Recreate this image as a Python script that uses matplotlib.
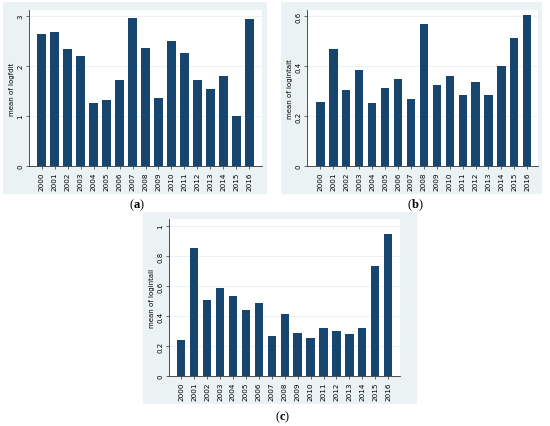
import matplotlib
matplotlib.use("Agg")
import matplotlib.pyplot as plt
from matplotlib.patches import Rectangle

years = [str(y) for y in range(2000, 2017)]

logfdit = [2.65, 2.68, 2.35, 2.21, 1.26, 1.33, 1.73, 2.97, 2.36, 1.37,
           2.51, 2.27, 1.73, 1.55, 1.81, 1.01, 2.95]
logintalt = [0.255, 0.47, 0.303, 0.385, 0.251, 0.313, 0.348, 0.269, 0.568, 0.324,
             0.359, 0.283, 0.336, 0.284, 0.401, 0.511, 0.603]
logintall = [0.239, 0.856, 0.507, 0.586, 0.531, 0.438, 0.489, 0.268, 0.412, 0.285,
             0.254, 0.323, 0.299, 0.281, 0.321, 0.735, 0.947]

yticks_a = [0, 1, 2, 3]
yticks_b = [0, 0.2, 0.4, 0.6]
yticks_c = [0, 0.2, 0.4, 0.6, 0.8, 1]

plt.rcParams['mathtext.fontset'] = 'custom'
plt.rcParams['mathtext.bf'] = 'Liberation Serif:bold'
plt.rcParams['mathtext.rm'] = 'Liberation Serif'

W, H = 550, 427
fig = plt.figure(figsize=(W / 100, H / 100), dpi=100)
fig.patch.set_facecolor('white')

navy = '#164570'
lightbg = '#eaf2f3'


def px_rect(x0, y0, x1, y1):
    # pixel box (top-left origin) -> figure fraction
    return [x0 / W, (H - y1) / H, (x1 - x0) / W, (y1 - y0) / H]


def panel(bg, box, vals, ticks, ylab, ylim, xlim, letter, letter_xy):
    r = px_rect(*bg)
    fig.patches.append(Rectangle((r[0], r[1]), r[2], r[3], transform=fig.transFigure,
                                 facecolor=lightbg, edgecolor='none', zorder=-5))
    ax = fig.add_axes(px_rect(*box))
    ax.set_zorder(1)
    ax.set_facecolor('white')
    ax.bar(range(len(vals)), vals, width=0.64, color=navy, zorder=3)
    ax.set_xlim(*xlim)
    ax.set_ylim(0, ylim)
    ax.set_yticks(ticks)
    ax.set_yticklabels([('%g' % t) for t in ticks], rotation=90, va='center', fontsize=5)
    ax.set_xticks(range(len(vals)))
    ax.set_xticklabels(years, rotation=90, fontsize=5.2)
    ax.tick_params(axis='both', length=2.5, width=0.5, color='#333333', pad=1.5)
    for t in ticks[1:]:
        ax.axhline(t, color=lightbg, lw=0.7, zorder=1)
    for s in ['top', 'right']:
        ax.spines[s].set_visible(False)
    for s in ['left', 'bottom']:
        ax.spines[s].set_linewidth(0.6)
        ax.spines[s].set_color('#333333')
    ax.set_ylabel(ylab, fontsize=5, labelpad=1.5)
    fig.text(letter_xy[0] / W, 1 - letter_xy[1] / H, '(' + r'$\mathbf{' + letter + '}$' + ')',
             ha='center', va='center', fontsize=9, family='Liberation Serif')
    return ax


panel((3, 3, 267, 195), (29, 11, 262, 167), logfdit, yticks_a, 'mean of logfdit',
      3.12, (-0.97, 16.97), 'a', (137, 205))
panel((281, 3, 542, 195), (307, 11, 538, 167), logintalt, yticks_b, 'mean of logintalt',
      0.624, (-1.04, 16.83), 'b', (415, 205))
panel((143, 213, 417, 405), (169, 220, 400, 377), logintall, yticks_c, 'mean of logintall',
      1.047, (-0.94, 16.91), 'c', (283, 417))

fig.savefig('out.png', dpi=100)
